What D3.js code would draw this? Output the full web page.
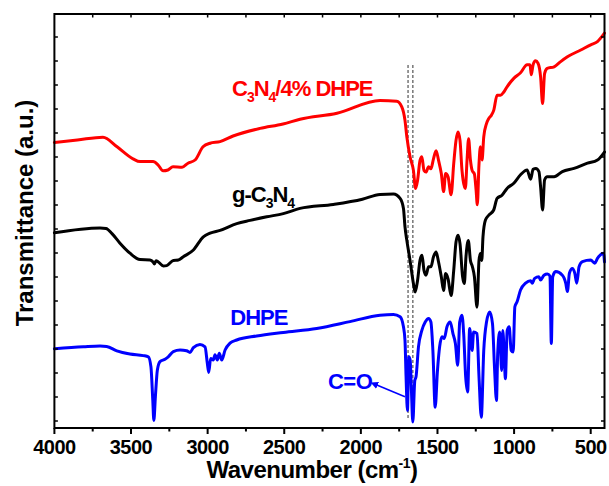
<!DOCTYPE html>
<html>
<head>
<meta charset="utf-8">
<script src="https://cdn.jsdelivr.net/npm/d3@7"></script>
<style>
  body { margin: 0; background: #fff; }
  svg { display: block; }
  text { font-family: "Liberation Sans", Arial, sans-serif; font-weight: bold; }
</style>
</head>
<body>
<svg id="chart" width="609" height="486"></svg>
<script>
// FTIR spectra: [wavenumber (cm^-1), transmittance (a.u.)]
const c3n4DhpeSpectrum = [
  [4000,71.4],[3850,72.0],[3683,72.7],[3591,70.3],[3487,67.3],[3441,66.6],[3356,66.6],[3324,65.8],
  [3291,64.3],[3259,64.5],[3226,65.3],[3167,65.2],[3128,66.2],[3082,67.0],[3030,70.3],[2984,71.2],
  [2919,71.6],[2834,73.0],[2658,74.9],[2508,76.0],[2397,77.2],[2156,78.7],[1875,81.9],[1766,81.7],
  [1733,80.3],[1712,76.9],[1700,72.8],[1679,67.8],[1657,64.4],[1643,59.9],[1630,61.9],[1614,66.9],
  [1602,67.8],[1588,64.4],[1575,64.0],[1558,65.3],[1543,64.8],[1526,67.3],[1509,69.3],[1493,66.9],
  [1475,63.6],[1460,59.1],[1447,63.6],[1431,62.8],[1411,58.3],[1394,66.1],[1379,71.9],[1366,74.0],
  [1353,71.9],[1340,64.4],[1333,62.0],[1318,59.9],[1307,67.0],[1297,72.3],[1285,67.0],[1274,64.4],
  [1259,63.5],[1248,59.5],[1240,55.8],[1229,66.0],[1220,70.3],[1209,67.0],[1198,72.8],[1180,76.1],
  [1165,77.4],[1148,78.2],[1133,79.4],[1111,83.2],[1089,83.2],[1067,84.0],[1046,85.3],[1002,87.4],
  [958,88.8],[915,90.8],[896,90.8],[888,88.3],[876,90.8],[860,91.8],[844,91.2],[827,87.8],
  [814,81.1],[801,88.6],[784,89.9],[739,90.3],[696,91.6],[652,92.8],[565,94.5],[500,95.8],
  [456,96.6],[410,98.7]
];

const gC3n4Spectrum = [
  [4000,48.8],[3702,50.0],[3663,49.9],[3624,48.6],[3572,46.2],[3507,43.7],[3441,42.1],[3376,42.0],
  [3356,41.5],[3347,41.0],[3337,41.8],[3322,41.5],[3289,40.5],[3267,40.6],[3224,41.9],[3191,42.0],
  [3159,42.8],[3093,44.5],[3028,47.8],[2984,48.7],[2919,49.4],[2810,51.1],[2723,51.9],[2614,52.8],
  [2506,53.6],[2397,54.9],[2180,55.9],[1990,57.2],[1875,58.4],[1787,58.5],[1744,57.4],[1722,54.9],
  [1712,50.3],[1700,46.9],[1679,41.9],[1657,36.1],[1646,34.0],[1630,36.9],[1614,41.9],[1601,43.2],
  [1588,39.4],[1575,38.2],[1558,40.3],[1543,40.3],[1526,42.8],[1509,44.0],[1493,41.5],[1475,37.8],
  [1460,34.4],[1447,38.6],[1431,37.3],[1411,33.1],[1394,39.4],[1379,46.5],[1366,48.2],[1353,46.1],
  [1336,37.8],[1325,36.1],[1314,42.8],[1299,46.9],[1285,41.9],[1272,40.3],[1259,37.8],[1242,30.2],
  [1229,41.9],[1220,43.6],[1211,41.9],[1203,47.8],[1187,52.0],[1165,53.2],[1133,54.5],[1111,57.4],
  [1079,58.2],[1046,59.9],[1002,61.2],[958,63.3],[915,64.5],[892,62.2],[876,64.7],[858,64.9],
  [838,64.1],[827,60.3],[814,54.5],[801,62.0],[784,62.8],[739,62.8],[685,64.1],[609,64.9],
  [521,66.2],[456,67.0],[410,69.0]
];

const dhpeSpectrum = [
  [4000,19.8],[3811,20.3],[3702,20.5],[3659,20.4],[3593,19.3],[3507,18.5],[3420,18.1],[3387,17.8],
  [3370,15.3],[3358,7.0],[3351,1.9],[3341,7.8],[3328,14.5],[3311,16.6],[3278,17.2],[3257,17.8],
  [3224,19.1],[3180,19.5],[3137,19.3],[3115,18.9],[3093,20.1],[3050,20.9],[3017,20.3],[3002,16.2],
  [2993,13.9],[2980,17.4],[2963,17.0],[2952,18.3],[2937,17.0],[2924,18.7],[2908,17.0],[2886,19.5],
  [2854,21.2],[2810,22.0],[2680,23.0],[2506,23.9],[2288,24.9],[2071,26.6],[1875,28.2],[1787,28.4],
  [1744,27.8],[1722,25.3],[1712,21.9],[1705,12.8],[1696,4.4],[1687,17.8],[1678,16.9],[1670,9.4],
  [1661,1.5],[1648,11.9],[1640,12.8],[1624,20.3],[1602,24.4],[1580,26.5],[1558,27.4],[1543,26.5],
  [1530,19.4],[1515,5.2],[1500,14.4],[1486,20.3],[1471,22.8],[1456,22.4],[1438,25.3],[1417,26.5],
  [1399,23.6],[1383,21.1],[1368,15.7],[1355,26.5],[1340,28.2],[1329,23.6],[1316,12.8],[1303,9.0],
  [1290,24.9],[1274,19.4],[1264,24.0],[1242,23.6],[1229,12.8],[1214,2.7],[1198,19.4],[1180,26.5],
  [1159,29.0],[1141,26.1],[1128,15.3],[1115,6.9],[1107,18.6],[1094,24.0],[1081,14.4],[1074,24.4],
  [1063,16.9],[1057,12.3],[1045,24.4],[1032,25.3],[1019,19.4],[1006,19.0],[995,30.3],[980,31.6],
  [958,34.5],[925,36.2],[892,36.8],[881,36.2],[866,37.4],[838,37.8],[827,37.0],[805,38.2],
  [783,38.5],[766,38.0],[757,21.1],[748,37.8],[729,39.1],[685,38.2],[663,36.2],[652,34.1],
  [639,38.7],[620,39.9],[604,38.7],[591,36.2],[576,40.3],[554,41.6],[500,42.0],[474,41.2],
  [456,42.4],[417,43.7],[410,41.5]
];

const xMajorTicks = [4000, 3500, 3000, 2500, 2000, 1500, 1000, 500];
const xMinorTicks = [3750, 3250, 2750, 2250, 1750, 1250, 750];
const markerLines = [1692, 1661];   // C=O band positions
const seriesColors = ["#ff0000", "#000000", "#0000ff"];

const svg = d3.select("#chart");
const plotLeft = 54.4, plotRight = 604.5, plotTop = 14, plotBottom = 428;

const x = d3.scaleLinear().domain([4000, 410]).range([plotLeft, plotRight]);
const y = d3.scaleLinear().domain([0, 103.5]).range([plotBottom, plotTop]);
const yTicks = d3.range(1.75, 103.5, 6);

// dashed guides at the carbonyl bands
svg.append("g").selectAll("line").data(markerLines).join("line")
  .attr("x1", d => x(d)).attr("x2", d => x(d))
  .attr("y1", y(90.75)).attr("y2", y(2.25))
  .attr("stroke", "#7f7f7f").attr("stroke-width", 1.6)
  .attr("stroke-dasharray", "3,2");

// spectra
const line = d3.line().x(d => x(d[0])).y(d => y(d[1])).curve(d3.curveMonotoneX);
const spectra = [c3n4DhpeSpectrum, gC3n4Spectrum, dhpeSpectrum];
svg.append("g").selectAll("path").data(spectra).join("path")
  .attr("d", line)
  .attr("fill", "none")
  .attr("stroke", (d, i) => seriesColors[i])
  .attr("stroke-width", 3)
  .attr("stroke-linejoin", "round")
  .attr("stroke-linecap", "round");

// axes frame and ticks
const axisG = svg.append("g").attr("stroke", "#000");
axisG.append("rect")
  .attr("x", plotLeft).attr("y", plotTop)
  .attr("width", plotRight - plotLeft).attr("height", plotBottom - plotTop)
  .attr("fill", "none").attr("stroke-width", 2);

const allX = xMajorTicks.concat(xMinorTicks);
// bottom: outward ticks
axisG.append("g").selectAll("line").data(allX).join("line")
  .attr("x1", d => x(d)).attr("x2", d => x(d))
  .attr("y1", plotBottom).attr("y2", d => plotBottom + (xMajorTicks.includes(d) ? 6 : 3.5))
  .attr("stroke-width", 2);
// top: inward ticks
axisG.append("g").selectAll("line").data(allX.filter(d => d !== 4000)).join("line")
  .attr("x1", d => x(d)).attr("x2", d => x(d))
  .attr("y1", plotTop).attr("y2", plotTop + 3.5)
  .attr("stroke-width", 1.5);
// left and right: inward ticks
axisG.append("g").selectAll("line").data(yTicks).join("line")
  .attr("x1", plotLeft).attr("x2", plotLeft + 3.5)
  .attr("y1", d => y(d)).attr("y2", d => y(d))
  .attr("stroke-width", 1.5);
axisG.append("g").selectAll("line").data(yTicks).join("line")
  .attr("x1", plotRight).attr("x2", plotRight - 3.5)
  .attr("y1", d => y(d)).attr("y2", d => y(d))
  .attr("stroke-width", 1.5);

// x tick labels
svg.append("g").selectAll("text").data(xMajorTicks).join("text")
  .attr("x", d => x(d)).attr("y", 454)
  .attr("text-anchor", "middle")
  .attr("font-size", 20)
  .attr("letter-spacing", -0.5)
  .text(d => d);

// axis titles
const xt = svg.append("text")
  .attr("x", 312).attr("y", 478)
  .attr("text-anchor", "middle")
  .attr("font-size", 24)
  .attr("letter-spacing", -0.5);
xt.append("tspan").text("Wavenumber (cm");
xt.append("tspan").attr("font-size", 14).attr("dy", -10).text("-1");
xt.append("tspan").attr("dy", 10).text(")");

svg.append("text")
  .attr("transform", "translate(33,213) rotate(-90)")
  .attr("text-anchor", "middle")
  .attr("font-size", 24)
  .text("Transmittance (a.u.)");

// series labels with subscripts
function richLabel(parts, wx, vy, color) {
  const t = svg.append("text")
    .attr("x", x(wx)).attr("y", y(vy))
    .attr("font-size", 22)
    .attr("letter-spacing", -1)
    .attr("fill", color);
  let shift = 0;
  parts.forEach(p => {
    const target = p.sub ? 6 : 0;
    t.append("tspan")
      .attr("dy", target - shift)
      .attr("font-size", p.sub ? 14 : 22)
      .text(p.t);
    shift = target;
  });
}
richLabel([{t:"C"},{t:"3",sub:true},{t:"N"},{t:"4",sub:true},{t:"/4% DHPE"}], 2841, 82.9, seriesColors[0]);
richLabel([{t:"g-C"},{t:"3",sub:true},{t:"N"},{t:"4",sub:true}], 2841, 56.6, seriesColors[1]);
richLabel([{t:"DHPE"}], 2852, 25.75, seriesColors[2]);

// C=O annotation with arrow
svg.append("defs").append("marker")
  .attr("id", "head")
  .attr("viewBox", "0 0 10 10")
  .attr("refX", 2).attr("refY", 5)
  .attr("markerWidth", 5).attr("markerHeight", 5)
  .attr("orient", "auto-start-reverse")
  .append("path").attr("d", "M0,0 L10,5 L0,10 Z").attr("fill", seriesColors[2]);

svg.append("line")
  .attr("x1", x(1900)).attr("y1", y(10.8))
  .attr("x2", x(1712)).attr("y2", y(7.8))
  .attr("stroke", seriesColors[2]).attr("stroke-width", 1.5)
  .attr("marker-start", "url(#head)");

svg.append("text")
  .attr("x", x(2215)).attr("y", y(9.7))
  .attr("font-size", 22)
  .attr("letter-spacing", -0.5)
  .attr("fill", seriesColors[2])
  .text("C=O");
</script>
</body>
</html>
